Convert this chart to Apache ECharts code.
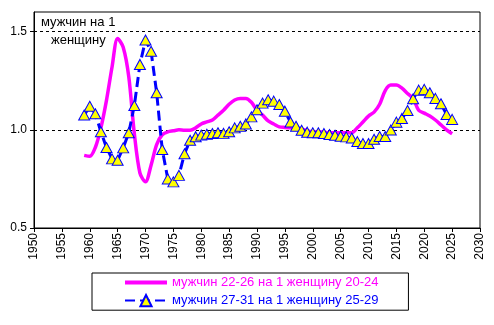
<!DOCTYPE html>
<html>
<head>
<meta charset="utf-8">
<script src="https://cdn.jsdelivr.net/npm/echarts@6/dist/echarts.min.js"></script>
<style>html,body{margin:0;padding:0;background:#fff;}#c{width:494px;height:325px;}</style>
</head>
<body>
<div id="c"></div>
<script>
var seriesNames = ['мужчин 22-26 на 1 женщину 20-24', 'мужчин 27-31 на 1 женщину 25-29'];
var yTickLabels = [0.5, 1.0, 1.5];
var pinkYears = [1959,1960,1961,1962,1963,1964,1965,1966,1967,1968,1969,1970,1971,1972,1973,1974,1975,1976,1977,1978,1979,1980,1981,1982,1983,1984,1985,1986,1987,1988,1989,1990,1991,1992,1993,1994,1995,1996,1997,1998,1999,2000,2001,2002,2003,2004,2005,2006,2007,2008,2009,2010,2011,2012,2013,2014,2015,2016,2017,2018,2019,2020,2021,2022,2023,2024,2025];
var pinkValues = [0.87,0.865,0.91,1.01,1.15,1.32,1.465,1.42,1.27,0.98,0.78,0.735,0.82,0.925,0.975,0.99,0.995,1.0,0.998,0.998,1.01,1.03,1.04,1.05,1.075,1.10,1.13,1.152,1.16,1.16,1.14,1.10,1.075,1.045,1.03,1.015,1.012,1.01,1.008,1.005,0.995,0.99,0.99,0.988,0.985,0.985,0.985,0.985,0.985,1.01,1.04,1.07,1.09,1.13,1.2,1.228,1.228,1.212,1.185,1.16,1.1,1.085,1.07,1.05,1.025,1.0,0.98];
var blueYears = pinkYears.slice();
var blueValues = [1.075,1.12,1.082,0.99,0.91,0.852,0.845,0.908,0.985,1.124,1.333,1.457,1.40,1.189,0.90,0.75,0.735,0.768,0.878,0.947,0.965,0.973,0.977,0.981,0.985,0.982,0.99,1.01,1.018,1.03,1.066,1.102,1.136,1.153,1.146,1.129,1.095,1.04,1.018,0.998,0.988,0.985,0.985,0.981,0.976,0.972,0.967,0.964,0.958,0.94,0.93,0.93,0.952,0.966,0.966,0.999,1.039,1.058,1.098,1.158,1.202,1.206,1.189,1.16,1.133,1.078,1.053];

function pairs(xs, ys){ return xs.map(function(x,i){ return [x, ys[i]]; }); }
var FONT = '"Liberation Sans", Arial, sans-serif';
var chart = echarts.init(document.getElementById('c'));
chart.setOption({
  animation: false,
  grid: {left: 34, right: 14, top: 12, bottom: 97, show: true, borderColor: '#000', borderWidth: 1, containLabel: false},
  xAxis: {
    type: 'value', min: 1950, max: 2030, interval: 5,
    axisLine: {show: true, lineStyle: {color: '#000', width: 1}},
    axisTick: {show: true, inside: false, length: 4, lineStyle: {color: '#000'}},
    axisLabel: {rotate: 90, margin: 5, color: '#000', fontSize: 12, fontFamily: FONT, formatter: function(v){return String(v);}},
    splitLine: {show: false}
  },
  yAxis: {
    type: 'value', min: 0.5, max: 1.6, interval: 0.5,
    axisLine: {show: true, lineStyle: {color: '#000', width: 1}},
    axisTick: {show: true, inside: false, length: 4, lineStyle: {color: '#000'}, customValues: yTickLabels},
    axisLabel: {margin: 7, color: '#000', fontSize: 12, fontFamily: FONT, customValues: yTickLabels, formatter: function(v){return v.toFixed(1);}},
    splitLine: {show: true, lineStyle: {color: '#000', type: [3,3], width: 1}}
  },
  legend: {
    orient: 'vertical', left: 92, top: 273,
    padding: [3, 30, 3, 32], itemGap: 5, itemWidth: 42, itemHeight: 14,
    borderColor: '#000', borderWidth: 1, backgroundColor: '#fff',
    data: [
      {name: seriesNames[0], icon: 'path://M0,0 L42,0 L42,4 L0,4 Z', itemStyle: {color: '#FF00FF'}, textStyle: {color: '#FF00FF'}},
      {name: seriesNames[1], textStyle: {color: '#0000FF'}}
    ],
    textStyle: {fontSize: 13, fontFamily: FONT}
  },
  graphic: [
    {type: 'text', left: 41, top: 16, style: {text: 'мужчин на 1', fontSize: 13, fontFamily: FONT, fill: '#000'}},
    {type: 'text', left: 51, top: 34, style: {text: 'женщину', fontSize: 13, fontFamily: FONT, fill: '#000'}}
  ],
  series: [
    {
      name: seriesNames[0], type: 'line', data: pairs(pinkYears, pinkValues),
      smooth: 0.3, symbol: 'none', z: 2,
      lineStyle: {color: '#FF00FF', width: 3.5},
      itemStyle: {color: '#FF00FF'}
    },
    {
      name: seriesNames[1], type: 'line', data: pairs(blueYears, blueValues),
      symbol: 'triangle', symbolSize: [11, 10], z: 3,
      lineStyle: {color: '#0000FF', width: 3, type: [10, 5]},
      itemStyle: {color: '#FFFF00', borderColor: '#0000FF', borderWidth: 1}
    }
  ]
});
</script>
</body>
</html>
